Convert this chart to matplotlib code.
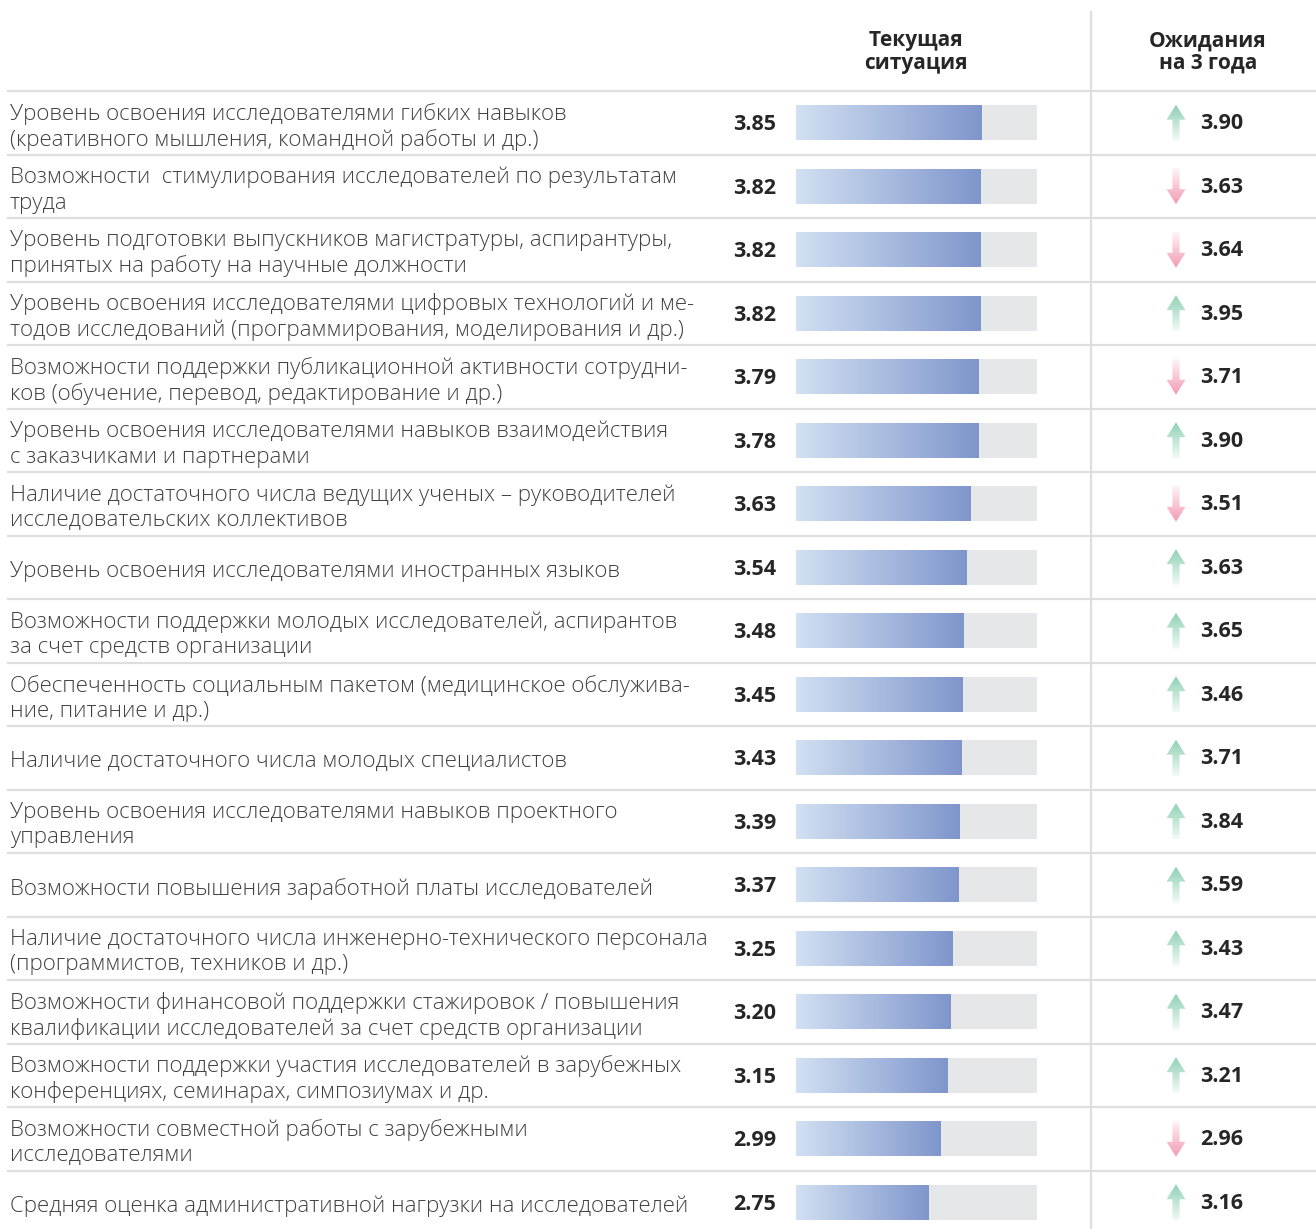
import numpy as np
import matplotlib
matplotlib.use("Agg")
import matplotlib.pyplot as plt
from matplotlib.patches import Polygon
from matplotlib.colors import LinearSegmentedColormap, to_rgb

plt.rcParams['font.family'] = ['Open Sans', 'DejaVu Sans']

labels = [
    "Уровень освоения исследователями гибких навыков\n(креативного мышления, командной работы и др.)",
    "Возможности  стимулирования исследователей по результатам\nтруда",
    "Уровень подготовки выпускников магистратуры, аспирантуры,\nпринятых на работу на научные должности",
    "Уровень освоения исследователями цифровых технологий и ме-\nтодов исследований (программирования, моделирования и др.)",
    "Возможности поддержки публикационной активности сотрудни-\nков (обучение, перевод, редактирование и др.)",
    "Уровень освоения исследователями навыков взаимодействия\nс заказчиками и партнерами",
    "Наличие достаточного числа ведущих ученых – руководителей\nисследовательских коллективов",
    "Уровень освоения исследователями иностранных языков",
    "Возможности поддержки молодых исследователей, аспирантов\nза счет средств организации",
    "Обеспеченность социальным пакетом (медицинское обслужива-\nние, питание и др.)",
    "Наличие достаточного числа молодых специалистов",
    "Уровень освоения исследователями навыков проектного\nуправления",
    "Возможности повышения заработной платы исследователей",
    "Наличие достаточного числа инженерно-технического персонала\n(программистов, техников и др.)",
    "Возможности финансовой поддержки стажировок / повышения\nквалификации исследователей за счет средств организации",
    "Возможности поддержки участия исследователей в зарубежных\nконференциях, семинарах, симпозиумах и др.",
    "Возможности совместной работы с зарубежными\nисследователями",
    "Средняя оценка административной нагрузки на исследователей",
]
current = [3.85, 3.82, 3.82, 3.82, 3.79, 3.78, 3.63, 3.54, 3.48, 3.45,
           3.43, 3.39, 3.37, 3.25, 3.20, 3.15, 2.99, 2.75]
expected = [3.90, 3.63, 3.64, 3.95, 3.71, 3.90, 3.51, 3.63, 3.65, 3.46,
            3.71, 3.84, 3.59, 3.43, 3.47, 3.21, 2.96, 3.16]
header_current = "Текущая\nситуация"
header_expected = "Ожидания\nна 3 года"
scale_max = 5.0

W, H = 1316, 1229
fig = plt.figure(figsize=(W / 100, H / 100), dpi=100)
ax = fig.add_axes([0, 0, 1, 1])
ax.set_xlim(0, W)
ax.set_ylim(H, 0)
ax.axis('off')

bx0, bw = 796, 241
bax = fig.add_axes([bx0 / W, 0, bw / W, 1])
bax.axis('off')

pitch = 63.5
top = 91
n = len(labels)
centers = [top + pitch * (i + 0.5) for i in range(n)]
line_col = "#dedede"
text_col = "#404040"
num_col = "#262626"

# separators
for i in range(n):
    y = top + pitch * i
    ax.plot([8, W], [y, y], color=line_col, lw=1.6, zorder=1)
ax.plot([1091, 1091], [12, H], color=line_col, lw=1.6, zorder=1)

# headers
ax.text(916, 52, header_current, ha='center', va='center', fontsize=15,
        fontweight='bold', color=num_col, linespacing=1.1)
ax.text(1208, 52, header_expected, ha='center', va='center', fontsize=15,
        fontweight='bold', color=num_col, linespacing=1.1)

bar_h = 35
bar_cmap = LinearSegmentedColormap.from_list("b", ["#d2e0f2", "#7f96cc"])
grad = np.linspace(0, 1, 256).reshape(1, -1)

bax.barh(centers, [scale_max] * n, height=bar_h, color="#e6e7e9", zorder=1)
bars = bax.barh(centers, current, height=bar_h, color="none", zorder=2)
for b, v, c in zip(bars, current, centers):
    im = bax.imshow(grad, cmap=bar_cmap, aspect='auto',
                    extent=[0, v, c + bar_h / 2, c - bar_h / 2], zorder=2)
    im.set_clip_path(b)
bax.set_xlim(0, scale_max)
bax.set_ylim(H, 0)

green = to_rgb("#8fd1b4")
pink = to_rgb("#f39ab4")

for lab, v, e, c in zip(labels, current, expected, centers):
    ax.text(10, c + 4, lab, ha='left', va='center', fontsize=16,
            fontweight='light', color=text_col, linespacing=1.25)
    ax.text(776, c + 2, f"{v:.2f}", ha='right', va='center', fontsize=15.5,
            fontweight='bold', color=num_col)
    ax.text(1200, c + 1, f"{e:.2f}", ha='left', va='center', fontsize=15.5,
            fontweight='bold', color=num_col)
    # arrow
    ax_x = 1176
    up = e > v
    y0, y1 = c - 18, c + 18
    sw, hw, hh = 3.6, 9.5, 15
    if up:
        pts = [(ax_x, y0), (ax_x + hw, y0 + hh), (ax_x + sw, y0 + hh),
               (ax_x + sw, y1), (ax_x - sw, y1), (ax_x - sw, y0 + hh),
               (ax_x - hw, y0 + hh)]
        col = green
        alpha = np.linspace(1, 0.12, 64)
    else:
        pts = [(ax_x, y1), (ax_x + hw, y1 - hh), (ax_x + sw, y1 - hh),
               (ax_x + sw, y0), (ax_x - sw, y0), (ax_x - sw, y1 - hh),
               (ax_x - hw, y1 - hh)]
        col = pink
        alpha = np.linspace(0.12, 1, 64)
    poly = Polygon(pts, closed=True, facecolor='none', edgecolor='none')
    ax.add_patch(poly)
    img = np.zeros((64, 1, 4))
    img[:, 0, :3] = col
    img[:, 0, 3] = alpha
    im = ax.imshow(img, aspect='auto', extent=[ax_x - hw, ax_x + hw, y1, y0],
                   origin='upper', zorder=3, interpolation='bilinear')
    im.set_clip_path(poly)

ax.set_xlim(0, W)
ax.set_ylim(H, 0)

fig.savefig("out.png", dpi=100, facecolor="white")
